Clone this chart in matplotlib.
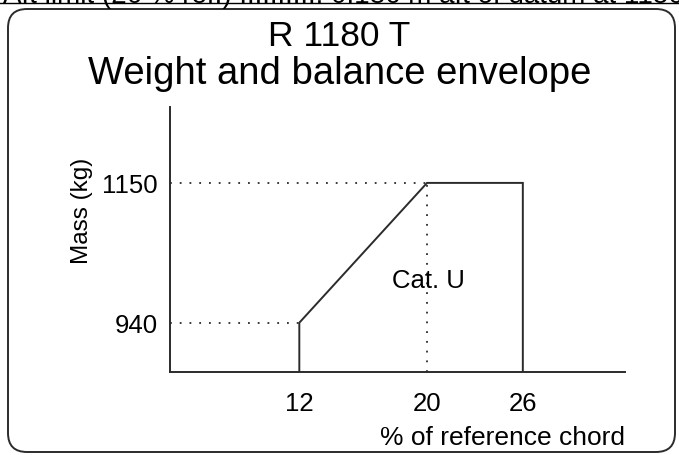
import matplotlib.pyplot as plt
from matplotlib.patches import FancyBboxPatch

plt.rcParams["font.family"] = ["Liberation Sans", "DejaVu Sans"]

# envelope corners (% of reference chord, kg)
chord = [12, 12, 20, 26, 26]
mass = [866, 940, 1150, 1150, 866]

x_ticks = [12, 20, 26]
y_ticks = [940, 1150]

header = "Aft limit (26 % ref.) ..........: 0.186 m aft of datum at 1150 kg"

ink = "#2b2b2b"

fig = plt.figure(figsize=(6.79, 4.56), dpi=100)

# rounded frame around the chart
frame = FancyBboxPatch(
    (8 / 679, 3 / 456), 667 / 679, 443 / 456,
    boxstyle="round,pad=0,rounding_size=0.028",
    transform=fig.transFigure, fill=False, ec=ink, lw=1.4,
    mutation_aspect=679 / 456,
)
fig.patches.append(frame)

# clipped header line above the frame
fig.text(0.005, 1 - 3 / 456, header, fontsize=20, va="baseline", ha="left", color="black")
fig.add_artist(plt.Line2D([0, 1], [1 - 4 / 456, 1 - 4 / 456], transform=fig.transFigure, color="black", lw=1))

fig.text(0.5, 1 - 46 / 456, "R 1180 T", fontsize=25.5, ha="center", va="baseline")
fig.text(0.5, 1 - 84 / 456, "Weight and balance envelope", fontsize=27.5, ha="center", va="baseline")

ax = fig.add_axes([170 / 679, 83 / 456, 455 / 679, 265 / 456])
ax.set_xlim(3.9, 32.4)
ax.set_ylim(866, 1264)

ax.plot(chord, mass, color=ink, lw=1.4, solid_joinstyle="miter")

# dotted guide lines
dot = (0, (1, 4.4))
ax.plot([3.9, chord[1]], [mass[1], mass[1]], color=ink, lw=1.3, ls=dot)
ax.plot([3.9, chord[2]], [mass[2], mass[2]], color=ink, lw=1.3, ls=dot)
ax.plot([chord[2], chord[2]], [866, mass[2]], color=ink, lw=1.3, ls=dot)

ax.text(20.1, 1004, "Cat. U", fontsize=18.5, ha="center", va="center")

for side in ["top", "right"]:
    ax.spines[side].set_visible(False)
for side in ["left", "bottom"]:
    ax.spines[side].set_color(ink)
    ax.spines[side].set_linewidth(1.4)

ax.set_xticks(x_ticks)
ax.set_yticks(y_ticks)
ax.tick_params(axis="x", length=0, labelsize=18.5, pad=14)
ax.tick_params(axis="y", length=0, labelsize=18.5, pad=9)

ax.set_xlabel("% of reference chord", fontsize=19)
ax.xaxis.set_label_coords(0.73, -0.2)
ax.set_ylabel("Mass (kg)", fontsize=17.5)
ax.yaxis.set_label_coords(-0.17, 0.61)

fig.savefig("out.png", dpi=100)
